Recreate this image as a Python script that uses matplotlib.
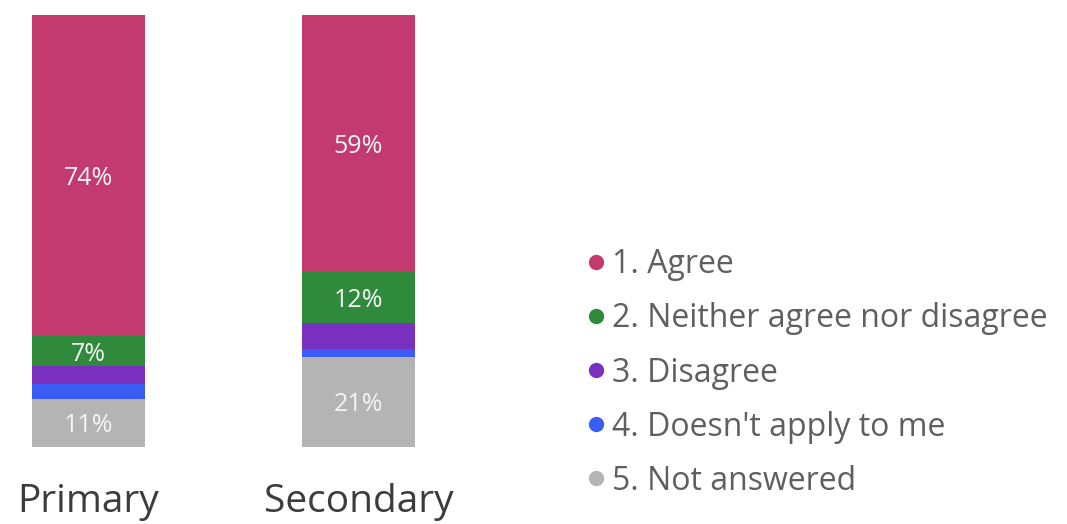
import matplotlib
matplotlib.use("Agg")
import matplotlib.pyplot as plt
from matplotlib.lines import Line2D
import numpy as np

plt.rcParams['font.family'] = ['Open Sans', 'DejaVu Sans']

# ---- data ----
groups = ['Primary', 'Secondary']
responses = ['1. Agree', '2. Neither agree nor disagree', '3. Disagree',
             "4. Doesn't apply to me", '5. Not answered']
agree = [74.4, 59.4]
neither = [6.9, 12.0]
disagree = [4.2, 6.0]
not_apply = [3.3, 1.7]
not_answered = [11.2, 20.9]
colors = ['#C33A6E', '#2F8A3B', '#7A30BE', '#3A5CF2', '#B4B4B4']

# stacking order: bottom is "Not answered", top is "Agree"
stack = [not_answered, not_apply, disagree, neither, agree]
stack_colors = colors[::-1]

fig = plt.figure(figsize=(10.67, 5.24), dpi=100)
ax = fig.add_axes([0, 77 / 524, 450 / 1067, 432 / 524])

x = np.arange(len(groups))
bottom = np.zeros(len(groups))
for vals, col in zip(stack, stack_colors):
    vals = np.array(vals)
    ax.bar(x, vals, bottom=bottom, width=0.42, color=col, linewidth=0)
    for xi, v, b in zip(x, vals, bottom):
        if v >= 6.5:
            ax.text(xi, b + v / 2, f'{round(v):.0f}%', ha='center', va='center_baseline',
                    color='#F4F4F4', fontsize=18)
    bottom += vals

ax.set_xlim(-88.5 / 270, (450 - 88.5) / 270)
ax.set_ylim(0, 100)
ax.set_xticks(x)
ax.set_xticklabels(groups, fontsize=28, color='#3C3C3C')
ax.tick_params(axis='x', length=0, pad=26)
ax.set_yticks([])
for s in ax.spines.values():
    s.set_visible(False)

handles = [Line2D([], [], marker='o', linestyle='', markersize=10,
                  markerfacecolor=c, markeredgecolor=c) for c in colors]
leg = fig.legend(handles, responses, loc='center left',
                 bbox_to_anchor=(580 / 1067, 1 - 373 / 524), frameon=False,
                 fontsize=23, labelspacing=0.66, handletextpad=0.0,
                 handlelength=1.0, borderpad=0, borderaxespad=0)
for t in leg.get_texts():
    t.set_color('#5F5F5F')

fig.savefig('out.png', dpi=100)
